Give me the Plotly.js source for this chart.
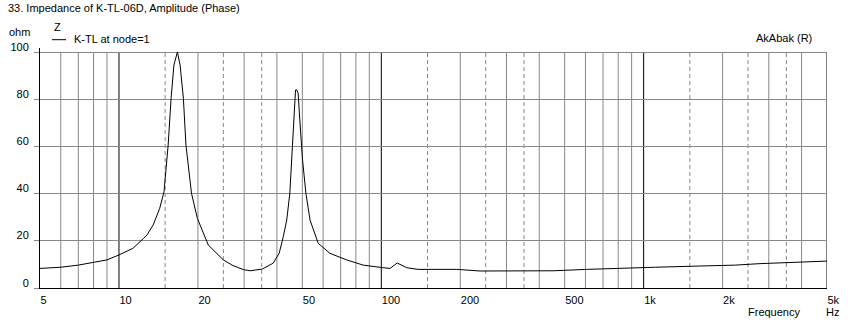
<!DOCTYPE html>
<html>
<head>
<meta charset="utf-8">
<script src="https://cdn.plot.ly/plotly-3.0.1.min.js"></script>
<style>html,body{margin:0;padding:0;background:#fff;}#chart{width:854px;height:325px;}</style>
</head>
<body>
<div id="chart"></div>
<script>
// ---- data ----
const freqHz = [5,6,7,8,9,10,11.3,12.4,12.8,13.5,14.3,14.85,15.4,15.8,16.2,16.7,17.1,17.6,18.0,18.9,19.9,21.9,25.0,27.2,29.8,31.6,35.1,38.7,40.8,42.3,43.6,44.8,46.2,47.1,47.6,48.2,48.9,50.1,51.6,53.5,57.5,63.7,73.8,85.3,101.7,108,115,125,138,194,238,292,455,609,879,1110,1623,2240,2749,3522,4000,5000];
const impedanceOhm = [8.3,8.8,9.7,10.7,11.9,14.0,16.8,21.0,22.5,26.7,33.8,40.8,60.6,80.4,94.5,100,94.5,80.4,60.6,40.1,29.5,18.2,11.9,9.5,7.8,7.3,8.0,10.5,14.7,21.7,28.8,40.1,67,83.9,84,82.5,71.2,54.2,40.1,28.8,18.9,14.7,11.9,9.7,8.6,8.3,10.6,8.6,7.9,7.9,7.2,7.2,7.3,7.9,8.3,8.8,9.3,9.7,10.3,10.7,11.0,11.4];
const seriesName = "K-TL at node=1";
const xTickVals = [5,10,20,50,100,200,500,1000,2000,5000];
const xTickText = ["5","10","20","50","100","200","500","1k","2k","5k"];
const yTickVals = [0,20,40,60,80,100];
const grayGridFreqs = [6,7,8,9,20,30,40,50,60,70,80,90,200,300,400,500,600,700,800,900,2000,3000,4000];
const dashedGridFreqs = [15,25,35,150,250,350,1500,2500,3500];
const blackGridFreqs = [10,100,1000,5000];
const titleText = "33. Impedance of K-TL-06D, Amplitude (Phase)";

const GRAY = "#888888";
const FONT = {family: "Liberation Sans, Arial, sans-serif", size: 11, color: "#000"};

const shapes = [];
function vline(f, color, dash) {
  shapes.push({type: "line", xref: "x", yref: "y", x0: f, x1: f, y0: 0, y1: 100,
    layer: "below", line: {color: color, width: 1, dash: dash}});
}
grayGridFreqs.forEach(f => vline(f, GRAY, "solid"));
dashedGridFreqs.forEach(f => vline(f, GRAY, "4px,3px"));
blackGridFreqs.forEach(f => vline(f, "#000", "solid"));
// legend sample line
shapes.push({type: "line", xref: "paper", yref: "paper", x0: 0.0153, x1: 0.0331, y0: 1.0346, y1: 1.0346,
  line: {color: "#000", width: 1}});

const trace = {x: freqHz, y: impedanceOhm, type: "scatter", mode: "lines", name: seriesName,
  line: {color: "#000", width: 1}, showlegend: false, hoverinfo: "x+y"};

const layout = {
  width: 854, height: 325,
  margin: {l: 40, r: 27, t: 48, b: 37, pad: 0},
  paper_bgcolor: "#fff", plot_bgcolor: "#fff",
  font: FONT,
  title: {text: titleText, x: 8/854, xref: "container", xanchor: "left", y: 1 - 8/325, yref: "container", yanchor: "middle", font: FONT},
  xaxis: {type: "log", range: [Math.log10(5), Math.log10(5000)], tickvals: xTickVals, ticktext: xTickText,
    showgrid: false, zeroline: false, showline: true, linecolor: "#000", linewidth: 1,
    ticks: "", ticklabelposition: "outside right", ticklabelstandoff: 2, tickfont: FONT},
  yaxis: {range: [0, 101.7], tickvals: yTickVals, showgrid: true, gridcolor: GRAY, gridwidth: 1,
    zeroline: false, showline: true, linecolor: "#000", linewidth: 1,
    ticks: "outside", ticklen: 5, tickcolor: GRAY, ticklabelposition: "outside top",
    ticklabelstandoff: 8, ticklabelshift: 3, tickfont: FONT},
  shapes: shapes,
  annotations: [
    {text: "ohm", xref: "paper", yref: "paper", x: 0, y: 1, xanchor: "right", yanchor: "middle", xshift: -8, yshift: 16, showarrow: false, font: FONT},
    {text: "Z", xref: "paper", yref: "paper", x: 0, y: 1, xanchor: "left", yanchor: "middle", xshift: 12, yshift: 21, showarrow: false, font: FONT},
    {text: seriesName, xref: "paper", yref: "paper", x: 0, y: 1, xanchor: "left", yanchor: "middle", xshift: 32, yshift: 9, showarrow: false, font: FONT},
    {text: "AkAbak (R)", xref: "paper", yref: "paper", x: 1, y: 1, xanchor: "right", yanchor: "middle", xshift: -13, yshift: 10, showarrow: false, font: FONT},
    {text: "Frequency", xref: "paper", yref: "paper", x: 1, y: 0, xanchor: "right", yanchor: "middle", xshift: -25, yshift: -24, showarrow: false, font: FONT},
    {text: "Hz", xref: "paper", yref: "paper", x: 1, y: 0, xanchor: "left", yanchor: "middle", xshift: -3, yshift: -24, showarrow: false, font: FONT}
  ],
  showlegend: false
};

Plotly.newPlot("chart", [trace], layout, {displayModeBar: false, staticPlot: true});
</script>
</body>
</html>
